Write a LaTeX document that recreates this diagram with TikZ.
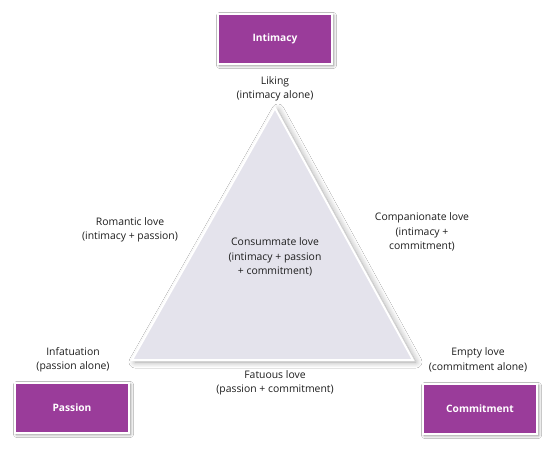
\documentclass[tikz,border=0pt]{standalone}
\usepackage{fontspec}
\setmainfont{Open Sans}
\usetikzlibrary{shadows.blur}
\definecolor{boxpurple}{RGB}{154,60,154}
\definecolor{trifill}{RGB}{228,227,236}
\definecolor{txtgray}{RGB}{30,30,30}
\tikzset{
  corner/.style={draw=white, line width=2.5pt, fill=boxpurple, minimum width=114pt, minimum height=50pt,
    text=white, font=\fontsize{10.2}{12}\selectfont\bfseries, inner sep=0pt,
    blur shadow={shadow xshift=1.5pt, shadow yshift=-1.5pt, shadow blur radius=3pt, shadow blur steps=10, shadow opacity=45}},
  lbl/.style={align=center, text=txtgray, font=\fontsize{10.4}{14.5}\selectfont, inner sep=0pt},
  tri/.style={draw=white, line width=2pt, fill=trifill,
    blur shadow={shadow xshift=3pt, shadow yshift=-2pt, shadow blur radius=6pt, shadow blur steps=16, shadow opacity=35}},
}
\begin{document}
\begin{tikzpicture}[x=1pt,y=-1pt]
\useasboundingbox[fill=white] (0,0) rectangle (551,450);
% triangle
\path[tri] (275,108) -- (413,360) -- (132,360) -- cycle;
% boxes
\node[corner] (intimacy) at (275,39) {Intimacy};
\node[corner] (passion) at (72,408) {Passion};
\node[corner] (commitment) at (480,409) {Commitment};
% labels
\node[lbl] (liking) at (275,89) {Liking\\(intimacy alone)};
\node[lbl] (romantic) at (130,230) {Romantic love\\(intimacy + passion)};
\node[lbl] (companionate) at (422,232) {Companionate love\\(intimacy +\\commitment)};
\node[lbl] (consummate) at (275,257) {Consummate love\\(intimacy + passion\\+ commitment)};
\node[lbl] (infatuation) at (73,360) {Infatuation\\(passion alone)};
\node[lbl] (fatuous) at (275,383) {Fatuous love\\(passion + commitment)};
\node[lbl] (empty) at (478,360) {Empty love\\(commitment alone)};
\end{tikzpicture}
\end{document}
